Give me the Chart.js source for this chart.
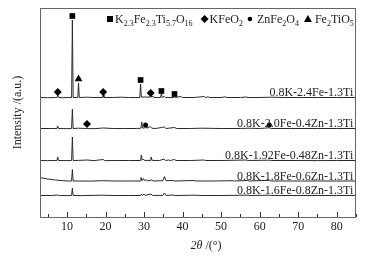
<!DOCTYPE html>
<html>
<head>
<meta charset="utf-8">
<script src="https://cdn.jsdelivr.net/npm/chart.js@4/dist/chart.umd.min.js"></script>
<style>
html,body{margin:0;padding:0;background:#fff;}
canvas{display:block;}
</style>
</head>
<body>
<canvas id="c" width="373" height="259"></canvas>
<script>
// ---- data (2θ, relative intensity above each pattern's baseline) ----
const seriesNames = [
  "0.8K-2.4Fe-1.3Ti",
  "0.8K-2.0Fe-0.4Zn-1.3Ti",
  "0.8K-1.92Fe-0.48Zn-1.3Ti",
  "0.8K-1.8Fe-0.6Zn-1.3Ti",
  "0.8K-1.6Fe-0.8Zn-1.3Ti"
];
const seriesOffsets = [119, 88, 56, 35.5, 21];

const pattern1 = [[3,0.5],[5,0.3],[7,0.5],[7.4,0.5],[7.6,3],[7.8,0.5],[9,0.3],[10.5,0.5],[11.2,0.5],[11.4,78],[11.6,0.5],[12.8,0.5],[13.0,15],[13.2,0.5],[15,0.8],[17,0.5],[19.2,0.5],[19.4,3],[19.6,0.5],[22,0.5],[24,0.8],[26,0.5],[28.9,0.5],[29.1,14],[29.3,0.8],[30,1],[31.5,0.8],[31.7,4],[31.9,0.8],[32.3,2],[32.6,0.5],[34.3,0.5],[34.5,5],[34.7,0.5],[35.3,1.5],[35.6,0.5],[37.7,0.5],[37.9,2.5],[38.1,0.5],[39.5,1.5],[40,0.5],[43,0.5],[45.5,1.5],[46,0.5],[46.6,1.2],[47,0.5],[50,0.5],[51,1.2],[51.5,0.5],[55,0.5],[56.5,1],[57,0.5],[60,0.5],[63,0.8],[66,0.5],[70,0.5],[75,0.5],[80,0.5],[85,0.5]];
const pattern2 = [[3,0.5],[6,0.5],[7.4,0.5],[7.6,3],[7.8,0.5],[10,0.3],[11.2,0.5],[11.4,20],[11.6,0.5],[13,0.8],[15,0.5],[17,0.3],[19.4,1],[22,0.5],[25,0.5],[28,0.5],[29.2,0.8],[29.4,7],[29.6,1],[30.2,1],[30.4,3],[30.7,0.8],[31.6,2.5],[32,0.8],[33,0.5],[34.5,1.5],[35.3,2],[35.7,0.5],[37.9,1.5],[38.5,0.5],[42,0.5],[45,0.8],[50,0.5],[55,0.5],[57,0.8],[60,0.5],[62.5,1.2],[63,0.5],[68,0.5],[75,0.5],[80,0.5],[85,0.5]];
const pattern3 = [[3,0.5],[5,0.4],[7.4,0.5],[7.6,4],[7.8,0.5],[10,0.4],[11.2,0.5],[11.4,24],[11.6,0.5],[13,0.6],[15.2,1],[17,0.4],[19.4,1.5],[19.7,0.4],[23,0.5],[26,0.5],[29.1,0.5],[29.3,6],[29.5,0.8],[29.8,2],[30.1,0.6],[31.6,0.6],[31.8,4],[32.1,0.6],[34,0.5],[35.2,2],[35.6,0.5],[36.4,1],[36.8,0.5],[37.9,1.5],[38.3,0.5],[42,0.5],[45.5,1],[46,0.5],[50,0.5],[56.5,1],[57,0.5],[62.5,0.8],[63,0.5],[70,0.5],[75,0.4],[80,0.5],[85,0.5]];
const pattern4 = [[3,4],[5,2.5],[7,1.5],[9,0.8],[10.5,0.5],[11.2,0.5],[11.4,12],[11.6,0.5],[13,0.5],[16,0.4],[19.4,0.8],[22,0.5],[26,0.5],[29,0.5],[29.2,4],[29.5,1],[29.8,3],[30.1,1],[30.5,2],[30.8,0.6],[32,1.5],[32.4,0.5],[34.9,0.8],[35.3,5],[35.7,0.8],[37.5,1],[38,0.5],[43,1],[43.5,0.5],[48,0.5],[53,0.8],[53.5,0.5],[56.8,1],[57.3,0.5],[62.5,1.2],[63,0.5],[68,0.5],[75,0.5],[80,0.5],[85,0.5]];
const pattern5 = [[3,0.5],[6,0.5],[7.6,1],[8,0.5],[10,0.4],[11.2,0.5],[11.4,8],[11.6,0.5],[14,0.4],[19.4,0.8],[22,0.5],[26,0.5],[29.1,0.5],[29.3,2],[29.6,0.6],[30,2],[30.3,0.6],[31.8,2],[32.2,0.6],[34.9,0.6],[35.3,3],[35.7,0.6],[37.5,1],[38,0.5],[43,0.8],[45,0.5],[50,0.5],[57,0.8],[57.5,0.5],[62.5,0.8],[63,0.5],[70,0.5],[75,0.5],[80,0.5],[85,0.5]];
const patterns = [pattern1, pattern2, pattern3, pattern4, pattern5];

// phase markers (2θ, plotted height)
const markK2Fe2Ti = [[11.4,201],[29.1,137],[34.5,126],[37.9,123]];
const markKFeO2   = [[7.6,125],[19.4,125],[31.7,124],[15.2,93]];
const markZnFe2O4 = [[30.4,92],[62.5,92]];
const markFe2TiO5 = [[13.0,138]];

const xTickLabels = [10,20,30,40,50,60,70,80];
const xMinorTicks = [5,15,25,35,45,55,65,75,85];

const FONT = "'Liberation Serif', 'Times New Roman', serif";
const LINE = '#2a2a2a';
const TXT = '#222';

const toXY = (arr, off) => arr.map(p => ({x: p[0], y: p[1] + off}));

const datasets = [];
patterns.forEach((p, i) => {
  datasets.push({
    type: 'line', data: toXY(p, seriesOffsets[i]), borderColor: LINE,
    borderWidth: 1, pointRadius: 0, tension: 0, fill: false, order: 2
  });
});
const mk = (arr, style, r) => ({
  type: 'scatter', data: toXY(arr, 0), pointStyle: style, pointRadius: r,
  pointHoverRadius: r, backgroundColor: '#000', borderColor: '#000',
  borderWidth: 0, showLine: false, order: 1
});
datasets.push(mk(markK2Fe2Ti, 'rect', 4));
datasets.push(mk(markKFeO2, 'rectRot', 4));
datasets.push(mk(markZnFe2O4, 'circle', 2.5));
datasets.push(mk(markFe2TiO5, 'triangle', 4.5));

const legendItems = [
  {sym: 'rect', parts: [['K',0],['2.3',1],['Fe',0],['2.3',1],['Ti',0],['5.7',1],['O',0],['16',1]]},
  {sym: 'diamond', parts: [['KFeO',0],['2',1]]},
  {sym: 'circle', parts: [['ZnFe',0],['2',1],['O',0],['4',1]]},
  {sym: 'triangle', parts: [['Fe',0],['2',1],['TiO',0],['5',1]]}
];

function drawSym(ctx, sym, cx, cy) {
  ctx.fillStyle = '#000';
  ctx.beginPath();
  if (sym === 'rect') { ctx.rect(cx - 3, cy - 3, 6, 6); }
  else if (sym === 'diamond') { ctx.moveTo(cx, cy - 4); ctx.lineTo(cx + 4, cy); ctx.lineTo(cx, cy + 4); ctx.lineTo(cx - 4, cy); ctx.closePath(); }
  else if (sym === 'circle') { ctx.arc(cx, cy, 2.3, 0, Math.PI * 2); }
  else if (sym === 'triangle') { ctx.moveTo(cx, cy - 4); ctx.lineTo(cx + 4, cy + 3); ctx.lineTo(cx - 4, cy + 3); ctx.closePath(); }
  ctx.fill();
}

const deco = {
  id: 'deco',
  afterDraw(chart) {
    const ctx = chart.ctx, a = chart.chartArea;
    const xs = chart.scales.x, ys = chart.scales.y;
    ctx.save();
    // frame
    ctx.strokeStyle = '#666'; ctx.lineWidth = 1;
    ctx.strokeRect(Math.round(a.left) + 0.5, Math.round(a.top) + 0.5, Math.round(a.right - a.left) - 1, Math.round(a.bottom - a.top));
    // inward ticks
    ctx.strokeStyle = '#333';
    ctx.beginPath();
    xTickLabels.forEach(v => { const px = Math.round(xs.getPixelForValue(v)) + 0.5; ctx.moveTo(px, a.bottom); ctx.lineTo(px, a.bottom - 5); });
    xMinorTicks.forEach(v => { const px = Math.round(xs.getPixelForValue(v)) + 0.5; ctx.moveTo(px, a.bottom); ctx.lineTo(px, a.bottom - 3); });
    ctx.stroke();
    // tick labels
    ctx.fillStyle = TXT;
    ctx.font = '12px ' + FONT;
    ctx.textAlign = 'center'; ctx.textBaseline = 'middle';
    xTickLabels.forEach(v => ctx.fillText(String(v), xs.getPixelForValue(v), a.bottom + 10));
    // series labels
    ctx.textAlign = 'right'; ctx.textBaseline = 'alphabetic';
    seriesNames.forEach((n, i) => {
      ctx.fillText(n, xs.getPixelForValue(84.3), ys.getPixelForValue(seriesOffsets[i]) - 2);
    });
    // legend
    ctx.textAlign = 'left';
    const textGap = [5, 5, 7, 7], afterGap = [12, 7, 9, 0];
    let cx = 110; const by = 23;
    legendItems.forEach((it, k) => {
      drawSym(ctx, it.sym, cx, by - 4);
      let x = cx + textGap[k];
      ctx.fillStyle = TXT;
      it.parts.forEach(([t, sub]) => {
        ctx.font = (sub ? '8px ' : '12px ') + FONT;
        ctx.fillText(t, x, sub ? by + 3 : by);
        x += ctx.measureText(t).width;
      });
      cx = x + afterGap[k];
    });
    // y title
    ctx.fillStyle = TXT;
    ctx.save();
    ctx.translate(18, (a.top + a.bottom) / 2);
    ctx.rotate(-Math.PI / 2);
    ctx.font = '12px ' + FONT; ctx.textAlign = 'center'; ctx.textBaseline = 'middle';
    ctx.fillText('Intensity /(a.u.)', 0, 0);
    ctx.restore();
    // x title
    ctx.textBaseline = 'middle'; ctx.textAlign = 'left';
    const t1 = '2θ';
    ctx.font = '12px ' + FONT;
    const w2 = ctx.measureText(' /(°)').width;
    ctx.font = 'italic 12px ' + FONT;
    const w1 = ctx.measureText(t1).width;
    const sx = 206 - (w1 + w2) / 2;
    ctx.fillText(t1, sx, 246);
    ctx.font = '12px ' + FONT;
    ctx.fillText(' /(°)', sx + w1, 246);
    ctx.restore();
  }
};

new Chart(document.getElementById('c'), {
  data: { datasets },
  options: {
    responsive: false, animation: false, devicePixelRatio: 1,
    layout: { padding: { top: 8, right: 17, left: 0, bottom: 0 } },
    plugins: { legend: { display: false }, tooltip: { enabled: false } },
    scales: {
      x: {
        type: 'linear', min: 3, max: 85, position: 'bottom',
        afterFit: s => { s.height = 42; },
        ticks: { display: false },
        grid: { display: false, drawTicks: false },
        border: { display: false }
      },
      y: {
        type: 'linear', min: 0, max: 209,
        afterFit: s => { s.width = 40; },
        ticks: { display: false },
        grid: { display: false, drawTicks: false },
        border: { display: false }
      }
    }
  },
  plugins: [deco]
});
</script>
</body>
</html>
